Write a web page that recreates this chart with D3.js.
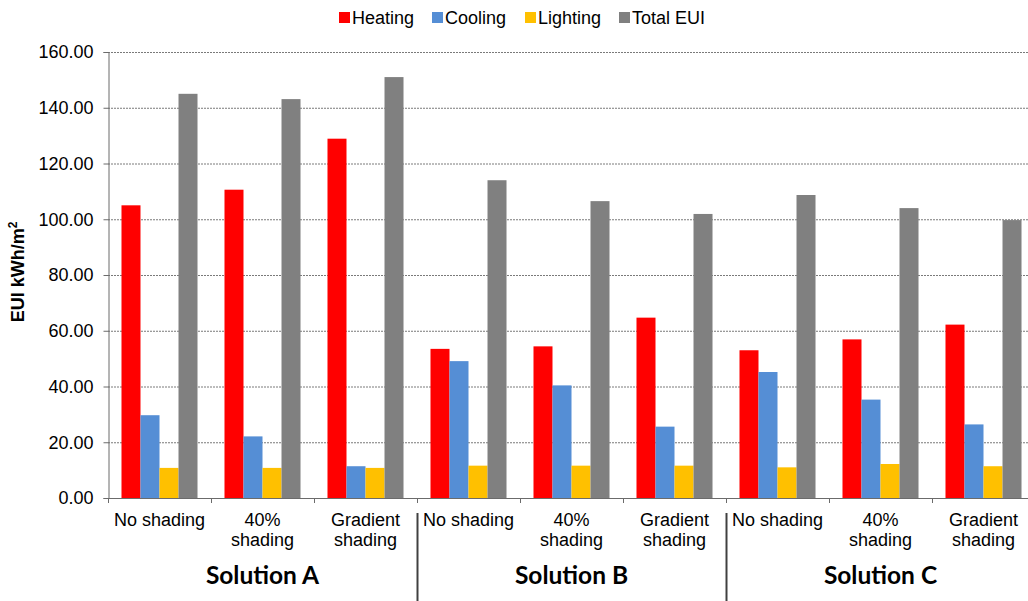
<!DOCTYPE html>
<html>
<head>
<meta charset="utf-8">
<script src="https://cdn.jsdelivr.net/npm/d3@7"></script>
<style>
  body { margin: 0; background: #fff; }
  text { font-family: "Liberation Sans", Arial, sans-serif; fill: #000; }
</style>
</head>
<body>
<div id="chart"></div>
<script>
// data
const solutions = ["Solution A", "Solution B", "Solution C"];
const scenarios = [["No shading"], ["40%", "shading"], ["Gradient", "shading"]];
const series = ["Heating", "Cooling", "Lighting", "Total EUI"];
const colors = ["#ff0000", "#558ed5", "#ffc000", "#808080"];

const heating  = [105.0, 110.6, 128.9, 53.5, 54.4, 64.7, 53.0, 56.9, 62.2];
const cooling  = [29.7, 22.1, 11.4, 49.1, 40.4, 25.6, 45.2, 35.3, 26.4];
const lighting = [10.8, 10.8, 10.8, 11.6, 11.6, 11.6, 11.0, 12.2, 11.4];
const totalEUI = [145.0, 143.1, 151.0, 114.0, 106.5, 101.9, 108.7, 104.0, 99.7];
const yTicks = [0, 20, 40, 60, 80, 100, 120, 140, 160];

const W = 1028, H = 601;
const margin = { top: 52, left: 108, bottom: 103 };
const plotRight = 1035;
const plotBottom = H - margin.bottom;

const svg = d3.select("#chart").append("svg")
    .attr("width", W)
    .attr("height", H);

// one slot per solution/scenario pair
const cats = [];
solutions.forEach((s, i) => scenarios.forEach((sc, j) => cats.push({ id: i * 3 + j, sol: i, label: sc })));
const values = [heating, cooling, lighting, totalEUI];

const x = d3.scaleBand()
    .domain(cats.map(d => d.id))
    .range([margin.left, plotRight])
    .padding(0);

const xs = d3.scaleBand()
    .domain(series)
    .range([0, x.bandwidth()])
    .paddingInner(0)
    .paddingOuter(0.71);

const y = d3.scaleLinear()
    .domain([0, 160])
    .range([plotBottom, margin.top]);

// gridlines
svg.append("g")
    .selectAll("line")
    .data(yTicks.filter(d => d > 0))
    .join("line")
    .attr("x1", margin.left)
    .attr("x2", plotRight)
    .attr("y1", d => y(d) + 0.5)
    .attr("y2", d => y(d) + 0.5)
    .attr("stroke", "#7a7a7a")
    .attr("stroke-dasharray", "2,1");

// bars
const groups = svg.append("g")
    .selectAll("g")
    .data(cats)
    .join("g")
    .attr("transform", d => `translate(${x(d.id)},0)`);

groups.selectAll("rect")
    .data(d => series.map((s, k) => ({ s, k, v: values[k][d.id] })))
    .join("rect")
    .attr("x", d => xs(d.s))
    .attr("y", d => y(d.v))
    .attr("width", xs.bandwidth())
    .attr("height", d => plotBottom - y(d.v))
    .attr("fill", d => colors[d.k]);

// y axis
const yAxis = svg.append("g")
    .attr("transform", `translate(${margin.left + 0.5},0)`)
    .call(d3.axisLeft(y).tickValues(yTicks).tickFormat(d3.format(".2f")).tickSize(5).tickPadding(10));
yAxis.select(".domain").attr("stroke", "#6b6b6b");
yAxis.selectAll(".tick line").attr("stroke", "#6b6b6b");
yAxis.selectAll("text").style("font-size", "18px").attr("fill", "#000");

// x axis line and ticks between categories
svg.append("line")
    .attr("x1", margin.left).attr("x2", plotRight)
    .attr("y1", plotBottom + 0.5).attr("y2", plotBottom + 0.5)
    .attr("stroke", "#6b6b6b");

svg.append("g")
    .selectAll("line")
    .data(cats.map(d => d.id).concat([9]))
    .join("line")
    .attr("x1", d => (d < 9 ? x(d) : plotRight) + 0.5)
    .attr("x2", d => (d < 9 ? x(d) : plotRight) + 0.5)
    .attr("y1", plotBottom)
    .attr("y2", plotBottom + 5)
    .attr("stroke", "#6b6b6b");

// scenario labels
const lab = svg.append("g")
    .selectAll("text")
    .data(cats)
    .join("text")
    .attr("x", d => x(d.id) + x.bandwidth() / 2)
    .attr("y", plotBottom + 28)
    .attr("text-anchor", "middle")
    .style("font-size", "18px");
lab.selectAll("tspan")
    .data(d => d.label.map((t, i) => ({ t, i, cx: x(d.id) + x.bandwidth() / 2 })))
    .join("tspan")
    .attr("x", d => d.cx)
    .attr("dy", d => d.i === 0 ? 0 : 20)
    .text(d => d.t);

// solution labels and separators
svg.append("g")
    .selectAll("text")
    .data(solutions)
    .join("text")
    .attr("x", (d, i) => (x(i * 3) + x(i * 3 + 2) + x.bandwidth()) / 2)
    .attr("y", 584)
    .attr("text-anchor", "middle")
    .style("font-family", "Lato, 'Open Sans', sans-serif")
    .style("font-weight", "bold")
    .style("font-size", "24.5px")
    .text(d => d);

svg.append("g")
    .selectAll("line")
    .data([3, 6])
    .join("line")
    .attr("x1", d => x(d) + 0.5)
    .attr("x2", d => x(d) + 0.5)
    .attr("y1", 513)
    .attr("y2", H)
    .attr("stroke", "#404040")
    .attr("stroke-width", 2);

// y axis title
svg.append("text")
    .attr("transform", `translate(24,${(margin.top + plotBottom) / 2 - 3}) rotate(-90)`)
    .attr("text-anchor", "middle")
    .style("font-size", "18px")
    .style("font-weight", "bold")
    .text("EUI kWh/m")
    .append("tspan")
    .attr("dy", -7)
    .style("font-size", "12px")
    .text("2");

// legend
const legendX = [339, 432, 525, 619];
const legend = svg.append("g")
    .selectAll("g")
    .data(series)
    .join("g")
    .attr("transform", (d, i) => `translate(${legendX[i]},12)`);
legend.append("rect")
    .attr("width", 11).attr("height", 11)
    .attr("fill", (d, i) => colors[i]);
legend.append("text")
    .attr("x", 13)
    .attr("y", 12)
    .style("font-size", "18px")
    .text(d => d);
</script>
</body>
</html>
